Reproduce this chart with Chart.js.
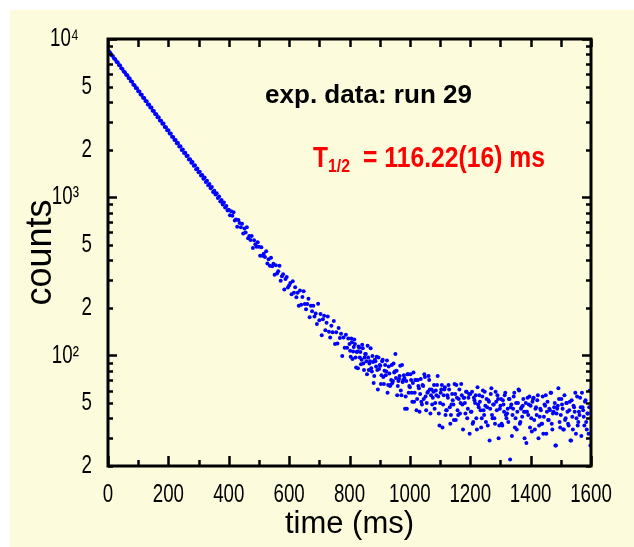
<!DOCTYPE html>
<html>
<head>
<meta charset="utf-8">
<script src="https://cdn.jsdelivr.net/npm/chart.js@4/dist/chart.umd.min.js"></script>
<style>
html,body{margin:0;padding:0;background:#ffffff;}
canvas{display:block;}
</style>
</head>
<body>
<canvas id="c" width="634" height="547"></canvas>
<script>
// ---- data ----
// segments A, B: 4 ms bins; segments C, D: 2 ms bins
const startA = 0,    binA = 4;
const startB = 400,  binB = 4;
const startC = 800,  binC = 2;
const startD = 1200, binD = 2;

const countsA = [ // 0 - 396 ms
8590,8310,8170,7890,7800, 7540,7450,7190,7120,6860, 6790,6540,6460,6230,6170, 5940,5890,5660,5620,5400, 5360,5140,5110,4900,4880,
4680,4660,4460,4440,4250, 4240,4050,4040,3860,3850, 3690,3690,3520,3510,3360, 3350,3200,3200,3050,3040, 2910,2920,2780,2770,2650,
2650,2530,2530,2410,2400, 2300,2300,2190,2200,2090, 2100,1990,2000,1900,1910, 1820,1830,1730,1740,1650, 1670,1580,1590,1500,1520,
1440,1450,1370,1380,1310, 1330,1250,1270,1190,1210, 1140,1160,1080,1100,1040, 1060,990,1010,940,960, 900,925,860,880,825
];
const countsB = [ // 400 - 796 ms
834,769,815,763,804, 713,723,651,718,686, 646,680,589,634,599, 647,550,569,536,568, 478,535,505,486,519,
486,427,482,427,439, 419,455,381,405,369, 414,366,379,323,371, 330,340,369,296,317, 326,261,304,313,269,
277,287,244,294,249, 270,233,249,206,257, 209,234,254,211,196, 211,228,174,206,190, 206,176,184,158,212,
167,183,134,169,178, 144,161,176,141,130, 154,140,165,118,140, 119,149,129,137,99, 130,112,135,112,128
];
const countsC = [ // 800 - 1198 ms
118,107,98,128,121,95,106,113,126,118, 97,84,105,106,83,114,112,97,105,88,
94,117,111,89,81,97,102,102,92,76, 115,97,81,89,92,111,83,79,99,91,
67,74,94,92,85,98,81,61,97,82, 87,86,66,75,92,94,73,66,80,87,
75,79,93,58,65,85,77,64,65,70, 87,67,69,89,78,79,102,72,80,56,
64,69,71,74,86,60,56,87,68,70, 75,72,46,55,69,46,76,76,58,64,
63,76,70,58,51,67,78,51,58,70, 70,45,53,70,64,62,44,57,71,51,
49,65,64,53,76,73,55,45,50,58, 59,74,70,61,43,56,61,49,54,59,
65,46,50,60,56,65,74,55,43,36, 50,58,61,65,35,49,56,61,63,42,
45,45,56,54,65,61,47,37,42,49, 57,52,49,39,66,57,39,65,54,45,
42,53,61,43,50,66,56,49,34,54, 54,50,43,59,59,40,46,54,57,32
];
const countsD = [ // 1200 - 1598 ms
57,44,44,59,37,38,54,52,50,56, 40,34,63,49,47,56,51,45,35,40,
55,60,45,42,59,48,38,53,47,36, 52,51,29,46,57,62,42,40,49,49,
40,37,59,51,45,56,53,30,36,46, 48,53,37,36,52,49,44,56,58,42,
40,43,46,38,53,53,22,47,49,31, 42,46,55,58,35,40,50,34,44,50,
61,60,37,38,46,47,41,48,53,44, 30,44,50,28,44,54,42,49,55,35,
48,40,33,51,53,54,39,34,46,47, 42,52,56,30,36,41,46,45,37,37,
55,32,41,49,48,56,32,44,51,39, 39,46,45,58,58,37,34,43,44,47,
50,27,27,43,46,48,62,53,38,35, 42,53,49,46,34,34,56,39,40,50,
50,44,37,36,45,51,29,29,52,41, 34,48,47,44,58,32,40,55,36,38,
44,42,54,47,31,58,47,45,41,36, 51,52,38,34,43,43,32,47,60,27
];

const xTickValues = [0,100,200,300,400,500,600,700,800,900,1000,1100,1200,1300,1400,1500,1600];
const xTickLabels = ['0','','200','','400','','600','','800','','1000','','1200','','1400','','1600'];
const yTickValues = [20,30,40,50,60,70,80,90,100,200,300,400,500,600,700,800,900,1000,2000,3000,4000,5000,6000,7000,8000,9000,10000];
const yTickLabels = ['2','','','5','','','','','10\u00B2','2','','','5','','','','','10\u00B3','2','','','5','','','','','10\u2074'];

const xTitle = 'time (ms)';
const yTitle = 'counts';
const note1 = 'exp. data: run 29';
const note2Main = 'T';
const note2Sub = '1/2';
const note2Rest = '= 116.22(16) ms';

// ---- styling ----
const TICK_FONT = "'Liberation Sans', Arial, sans-serif";
const TICK_SX = 0.72;            // horizontal condensing of tick labels
const TITLE_FONT = "'Liberation Sans', Arial, sans-serif";
const BG = 'rgb(252,252,221)';

function seg(counts, start, bin) { return counts.map((c, i) => ({x: start + i * bin, y: c})); }
const points = [].concat(
  seg(countsA, startA, binA), seg(countsB, startB, binB),
  seg(countsC, startC, binC), seg(countsD, startD, binD)
);

const bgPlugin = {
  id: 'bg',
  beforeDraw(chart) {
    const ctx = chart.ctx;
    ctx.save();
    ctx.fillStyle = '#ffffff';
    ctx.fillRect(0, 0, chart.width, chart.height);
    ctx.fillStyle = BG;
    ctx.fillRect(10, 10, chart.width - 10, chart.height - 10);
    ctx.restore();
  }
};

const condensePlugin = {
  id: 'condense',
  afterLayout(chart) {
    ['x', 'y'].forEach(id => {
      const s = chart.scales[id];
      if (!s || s._condensed) return;
      const orig = s.drawLabels;
      s.drawLabels = function (area) {
        const ctx = this.ctx;
        const ft = CanvasRenderingContext2D.prototype.fillText;
        ctx.fillText = function (t, x, y) {
          this.save(); this.translate(x, y); this.scale(TICK_SX, 1);
          ft.call(this, t, 0, 0); this.restore();
        };
        try { orig.call(this, area); } finally { delete ctx.fillText; }
      };
      s._condensed = true;
    });
  }
};

const framePlugin = {
  id: 'frame',
  afterDatasetsDraw(chart) {
    const ctx = chart.ctx;
    const a = chart.chartArea;
    const xs = chart.scales.x, ys = chart.scales.y;
    ctx.save();
    ctx.strokeStyle = '#000';
    ctx.lineWidth = 2.5;
    ctx.lineCap = 'butt';
    ctx.beginPath();
    xTickValues.forEach(v => {
      const px = Math.round(xs.getPixelForValue(v)) + 0.5;
      const lb = (v % 200 === 0) ? 10 : 6;
      ctx.moveTo(px, a.bottom); ctx.lineTo(px, a.bottom - lb);
      ctx.moveTo(px, a.top); ctx.lineTo(px, a.top + 8);
    });
    yTickValues.forEach(v => {
      const py = Math.round(ys.getPixelForValue(v)) + 0.5;
      const isDec = Math.abs(Math.log10(v) - Math.round(Math.log10(v))) < 1e-9;
      const l = isDec ? 9 : 5;
      ctx.moveTo(a.left, py); ctx.lineTo(a.left + l, py);
      ctx.moveTo(a.right, py); ctx.lineTo(a.right - l, py);
    });
    ctx.stroke();
    ctx.lineWidth = 3;
    ctx.strokeRect(a.left, a.top, a.right - a.left, a.bottom - a.top);
    ctx.restore();
  }
};

function fitText(ctx, text, x0, x1, yBase, font, color) {
  ctx.save();
  ctx.font = font;
  ctx.fillStyle = color;
  ctx.textAlign = 'left';
  ctx.textBaseline = 'alphabetic';
  const w = ctx.measureText(text).width;
  ctx.translate(x0, yBase);
  ctx.scale((x1 - x0) / w, 1);
  ctx.fillText(text, 0, 0);
  ctx.restore();
}

const textPlugin = {
  id: 'notes',
  afterDraw(chart) {
    const ctx = chart.ctx;
    const F = "'Liberation Sans', Arial, sans-serif";
    fitText(ctx, note1, 265, 472, 103, 'bold 25px ' + F, '#000000');
    fitText(ctx, note2Main, 313, 328, 167, 'bold 29px ' + F, '#ff0000');
    fitText(ctx, note2Sub, 328, 350, 172, 'bold 18px ' + F, '#ff0000');
    fitText(ctx, note2Rest, 363, 545, 167, 'bold 29px ' + F, '#ff0000');
  }
};

new Chart(document.getElementById('c'), {
  type: 'scatter',
  data: {
    datasets: [{
      data: points,
      backgroundColor: '#0000ff',
      borderWidth: 0,
      pointRadius: 2,
      pointHoverRadius: 2
    }]
  },
  options: {
    responsive: false,
    animation: false,
    devicePixelRatio: 1,
    layout: {padding: {left: 0, top: 39, right: 43, bottom: 0}},
    plugins: {legend: {display: false}, tooltip: {enabled: false}},
    scales: {
      x: {
        type: 'linear', min: 0, max: 1600,
        grid: {display: false}, border: {display: false},
        afterBuildTicks: s => { s.ticks = xTickValues.map(v => ({value: v})); },
        afterFit: s => { s.height = 81; },
        ticks: {
          autoSkip: false, maxRotation: 0, minRotation: 0, padding: 5, color: '#000',
          font: {family: TICK_FONT, size: 26},
          callback: v => { const i = xTickValues.indexOf(v); return i >= 0 ? xTickLabels[i] : ''; }
        },
        title: {display: true, text: xTitle, color: '#000', font: {family: TITLE_FONT, size: 31}, padding: {top: 0, bottom: 4}}
      },
      y: {
        type: 'logarithmic', min: 20, max: 10000,
        grid: {display: false}, border: {display: false},
        afterBuildTicks: s => { s.ticks = yTickValues.map(v => ({value: v})); },
        afterFit: s => { s.width = 108; },
        ticks: {
          autoSkip: false, padding: 8, color: '#000',
          font: {family: TICK_FONT, size: 26},
          callback: v => {
            const i = yTickValues.indexOf(v);
            if (i < 0) return '';
            const t = yTickLabels[i];
            return t.startsWith('10') ? t + '\u2002\u2009' : t;
          }
        },
        title: {display: true, text: yTitle, color: '#000', font: {family: TITLE_FONT, size: 36}, padding: {top: 19, bottom: 0}}
      }
    }
  },
  plugins: [bgPlugin, condensePlugin, framePlugin, textPlugin]
});
</script>
</body>
</html>
